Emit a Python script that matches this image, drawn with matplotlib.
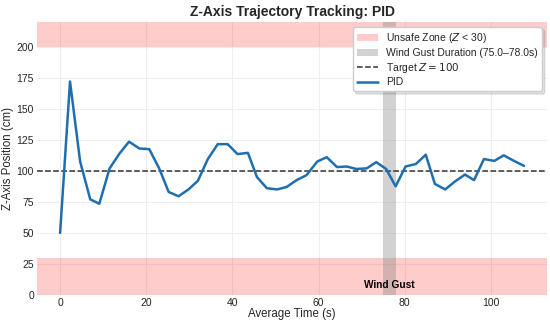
import matplotlib
matplotlib.use("Agg")
import matplotlib.pyplot as plt
import seaborn as sns

sns.set_theme(style="whitegrid")
plt.rcParams['font.family'] = ['Liberation Sans', 'DejaVu Sans']

time_s = [0, 2.3, 4.65, 7.0, 9.1, 11.5, 13.8, 16.0, 18.4, 20.7, 23.0, 25.2, 27.5,
          29.8, 32.0, 34.3, 36.6, 38.9, 41.2, 43.6, 45.7, 48.0, 50.4, 52.6, 54.9,
          57.2, 59.7, 61.9, 64.3, 66.5, 68.8, 71.2, 73.4, 75.7, 77.9, 80.2, 82.6,
          84.9, 87.0, 89.4, 91.7, 94.0, 96.1, 98.4, 100.8, 103.0, 105.4, 107.7]
z_pid = [50, 172, 107.5, 77, 73.5, 102, 114, 123.5, 118, 117.5, 102, 83, 79.5,
         85, 92, 109.5, 121.5, 121.5, 113.5, 114.5, 95, 86, 85, 87, 92.5,
         96.5, 107.5, 111, 103, 103.5, 101.5, 102, 107, 101.5, 87.5, 103.5, 105.5,
         113, 89.5, 85, 91.5, 97, 92.5, 109.5, 108, 112.5, 108, 104]
target_z = 100
unsafe_low = 30
unsafe_high = 200
gust_start, gust_end = 75.0, 78.0

fig, ax = plt.subplots(figsize=(5.5, 3.23), dpi=100)
ax.axhspan(0, unsafe_low, color='red', alpha=0.2, lw=0, label='Unsafe Zone ($Z$ < 30)')
ax.axhspan(unsafe_high, 220, color='red', alpha=0.2, lw=0)
ax.axvspan(gust_start, gust_end, color='gray', alpha=0.35, lw=0,
           label=f'Wind Gust Duration ({gust_start:.1f}–{gust_end:.1f}s)')
ax.axhline(target_z, color='#333333', ls='--', lw=1.1, label='Target $Z = 100$')
ax.plot(time_s, z_pid, color='#1f6fb0', lw=1.8, label='PID')
ax.text((gust_start + gust_end) / 2, 4, 'Wind Gust', ha='center', va='bottom',
        fontsize=7.3, fontweight='bold', color='black')

ax.set_ylim(0, 220)
ax.set_xlim(-5.4, 113.1)
ax.set_yticks([0, 25, 50, 75, 100, 125, 150, 175, 200])
ax.set_title('Z-Axis Trajectory Tracking: PID', fontsize=10, fontweight='bold', pad=4)
ax.set_xlabel('Average Time (s)', fontsize=8.3, labelpad=0)
ax.set_ylabel('Z-Axis Position (cm)', fontsize=8.3, labelpad=2)
ax.tick_params(labelsize=7.5, pad=2, length=0)
ax.grid(True, color='#eeeeee', lw=0.8)
for s in ax.spines.values():
    s.set_visible(False)
leg = ax.legend(loc='upper right', fontsize=7.5, frameon=True,
                shadow={'ox': 2, 'oy': -2, 'alpha': 0.15},
                fancybox=True, framealpha=1, borderpad=0.4, labelspacing=0.25,
                bbox_to_anchor=(1.0, 1.0))
leg.get_frame().set_edgecolor('#cccccc')

fig.subplots_adjust(left=0.067, right=0.995, top=0.932, bottom=0.087)
fig.savefig('out.png', dpi=100)
